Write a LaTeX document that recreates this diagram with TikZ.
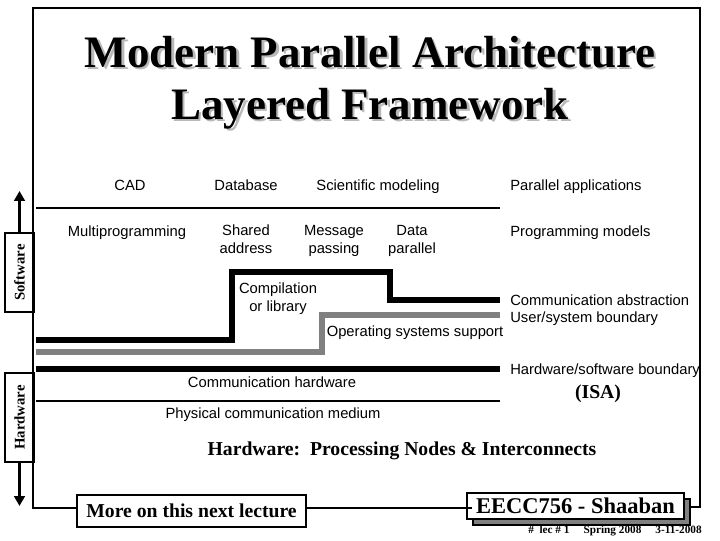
\documentclass[tikz,border=0pt]{standalone}
\usepackage{fontspec}
\setmainfont{Liberation Serif}
\setsansfont{Liberation Sans}
\usetikzlibrary{arrows.meta, positioning}
\definecolor{osgray}{RGB}{128,128,128}
\definecolor{shadegray}{RGB}{185,185,185}

% title text with a light drop shadow
\newcommand{\shadetitle}[1]{\makebox[0pt][l]{\hspace{1.8pt}\raisebox{-1.8pt}{\color{shadegray}#1}}#1}

\tikzset{
  layertxt/.style={font=\sffamily\fontsize{10.5}{12.5}\selectfont, inner sep=0pt, align=center, anchor=base},
  sidetxt/.style={layertxt, anchor=base west},
  boldtxt/.style={font=\bfseries\fontsize{14}{16}\selectfont, inner sep=0pt, anchor=base},
  titletxt/.style={font=\bfseries\fontsize{32}{36}\selectfont, inner sep=0pt, anchor=base},
  sidebox/.style={draw, line width=1.4pt, fill=white, rotate=90, font=\bfseries\fontsize{10.5}{12}\selectfont, minimum height=0.725cm, inner sep=0pt},
  labelbox/.style={draw, line width=1.4pt, fill=white, inner sep=0pt},
  sidearrow/.style={line width=2.8pt, -{Triangle[length=7pt, width=7.5pt]}},
  thinrule/.style={line width=1pt},
  thickrule/.style={line width=3.6pt},
  graystep/.style={line width=3.6pt, osgray},
  framerule/.style={line width=1.8pt},
}

\begin{document}
\begin{tikzpicture}[x=0.025cm, y=-0.025cm]
  \useasboundingbox (0,0) rectangle (720,540);

  % Title
  \node[titletxt] (titleA) at (370,67) {\shadetitle{Modern Parallel Architecture}};
  \node[titletxt] (titleB) at (370,119) {\shadetitle{Layered Framework}};

  % --- Parallel applications ---
  \node[layertxt] (cad) at (130,190.5) {CAD};
  \node[layertxt] (dbase) at (246,190.5) {Database};
  \node[layertxt] (scimod) at (378,190.5) {Scientific modeling};
  \node[sidetxt] (parapp) at (510,190.5) {Parallel applications};
  \draw[thinrule] (36,208) -- (500,208);

  % --- Programming models ---
  \node[layertxt] (multiprog) at (127,236.5) {Multiprogramming};
  \node[layertxt] (shared) at (246,253) {Shared\\address};
  \node[layertxt] (msgpass) at (334,253) {Message\\passing};
  \node[layertxt] (datapar) at (412,253) {Data\\parallel};
  \node[sidetxt] (progmod) at (510,236.5) {Programming models};

  % --- Communication abstraction / OS ---
  \draw[thickrule] (36,340) -| (232,272) -| (390,300) -- (500,300);
  \draw[graystep] (36,352) -| (322,315) -- (500,315);
  \node[layertxt] (compil) at (278,311) {Compilation\\or library};
  \node[layertxt] (ossupp) at (415,336.5) {Operating systems support};
  \node[sidetxt] (commabs) at (510,305.5) {Communication abstraction};
  \node[sidetxt] (usersys) at (510,322.5) {User/system boundary};

  % --- Hardware ---
  \draw[thickrule] (36,369) -- (500,369);
  \node[sidetxt] (hwsw) at (510,374.5) {Hardware/software boundary};
  \node[boldtxt] (isa) at (598,398.5) {(ISA)};
  \node[layertxt] (commhw) at (272,387.5) {Communication hardware};
  \draw[thinrule] (36,401) -- (500,401);
  \node[layertxt] (physmed) at (273,418.5) {Physical communication medium};
  \node[boldtxt] (hwnodes) at (402,455) {Hardware:\ \ Processing Nodes \& Interconnects};

  % Side arrows
  \node[sidebox, minimum width=1.975cm] (swbox) at (19.5,272.5) {Software};
  \node[sidebox, minimum width=2.225cm] (hwbox) at (19.5,417.5) {Hardware};
  \coordinate (swtip) at (19.5,191);
  \coordinate (hwtip) at (19.5,506);
  \draw[sidearrow] (swbox.east) -- (swtip);
  \draw[sidearrow] (hwbox.west) -- (hwtip);

  % Bottom boxes and frame
  \node[labelbox, minimum width=5.725cm, minimum height=0.8cm, font=\bfseries\fontsize{14}{16}\selectfont] (more) at (191.5,511) {More on this next lecture};
  \node[labelbox, fill=osgray, minimum width=5.425cm, minimum height=0.65cm] (eeccsh) at (581.5,512) {};
  \node[labelbox, minimum width=5.425cm, minimum height=0.65cm, font=\bfseries\fontsize{16}{18}\selectfont] (eecc) at (575.5,506) {EECC756 - Shaaban};
  \node[font=\bfseries\fontsize{8}{9}\selectfont, inner sep=0pt] (footer) at (615,531) {\#\ \ lec \# 1\quad\ Spring 2008\quad\ 3-11-2008};
  \draw[framerule] (more.west |- 0,508) -- (33,508) -- (33,8) -- (700,8) -- (700,507) -- (eeccsh.east |- 0,507);
  \draw[framerule] (more.east |- 0,508) -- (eeccsh.west |- 0,508);
\end{tikzpicture}
\end{document}
